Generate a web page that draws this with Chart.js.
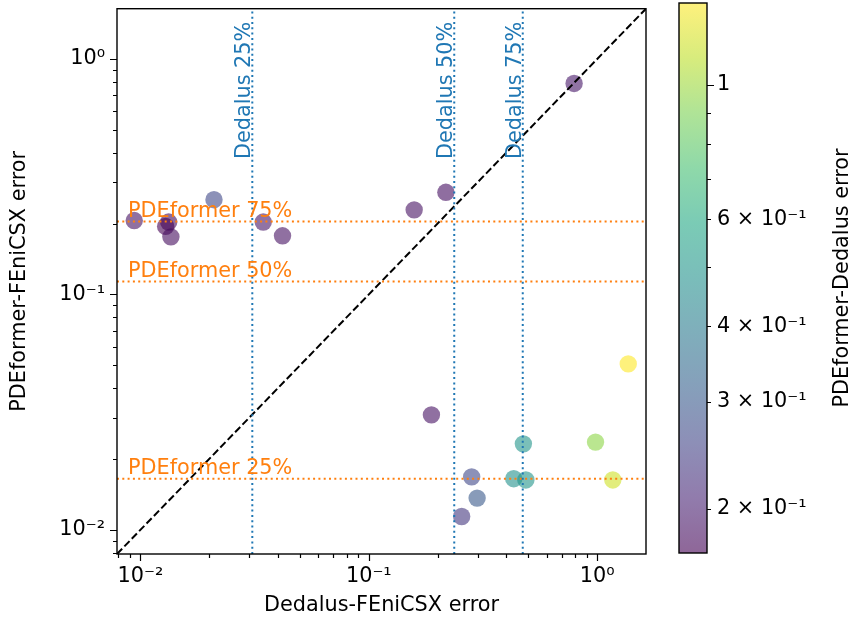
<!DOCTYPE html>
<html>
<head>
<meta charset="utf-8">
<script src="https://cdn.jsdelivr.net/npm/chart.js@4.4.1/dist/chart.umd.min.js"></script>
<style>
  body { margin: 0; background: #fff; }
  #wrap { position: relative; width: 853px; height: 632px; }
  #wrap canvas { position: absolute; left: 0; top: 0; }
</style>
</head>
<body>
<div id="wrap">
  <canvas id="scatterChart" width="853" height="632"></canvas>
  <canvas id="colorbar" width="853" height="632"></canvas>
</div>
<script>
// one entry per PDE: x = Dedalus-FEniCSX error, y = PDEformer-FEniCSX error, colour = PDEformer-Dedalus error
const dedalusErr = [0.0094, 0.0133, 0.0129, 0.0136, 0.0210, 0.0345, 0.0419, 0.158, 0.2175, 0.792,
                    0.188, 0.475, 0.282, 0.431, 0.487, 0.298, 0.255, 0.983, 1.17, 1.367];
const pdeformerErr = [0.206, 0.203, 0.1945, 0.1756, 0.2526, 0.203, 0.1774, 0.2287, 0.2715, 0.787,
                      0.0308, 0.0232, 0.0168, 0.0165, 0.0163, 0.01365, 0.0114, 0.0236, 0.0163, 0.0507];
const crossErr = [0.185, 0.178, 0.169, 0.18, 0.262, 0.19, 0.185, 0.185, 0.182, 0.19,
                  0.186, 0.50, 0.262, 0.48, 0.50, 0.30, 0.235, 0.95, 1.17, 1.365];

const dedalusQuantiles = [0.0309, 0.2366, 0.472];
const dedalusLabels = ['Dedalus 25%', 'Dedalus 50%', 'Dedalus 75%'];
const pdeformerQuantiles = [0.0165, 0.1134, 0.204];
const pdeformerLabels = ['PDEformer 25%', 'PDEformer 50%', 'PDEformer 75%'];

const axisMin = 0.0079;
const axisMax = 1.635;
const majorTicks = [0.01, 0.1, 1];
const majorLabels = ['10⁻²', '10⁻¹', '10⁰'];
const cbarTicks = [1, 0.6, 0.4, 0.3, 0.2];
const cbarLabels = ['1', '6 × 10⁻¹', '4 × 10⁻¹', '3 × 10⁻¹', '2 × 10⁻¹'];

const FONT = '"DejaVu Sans", "Liberation Sans", sans-serif';
const FONT_SIZE = 20.8;
const BLUE = '#1f77b4';
const ORANGE = '#ff7f0e';

const cMin = Math.min(...crossErr);
const cMax = Math.max(...crossErr);

const viridisStops = ['#440154', '#482475', '#414487', '#355f8d', '#2a788e', '#21918c',
                      '#22a884', '#44bf70', '#7ad151', '#bddf26', '#fde725'];

function hexRgb(h) {
    return [parseInt(h.slice(1, 3), 16), parseInt(h.slice(3, 5), 16), parseInt(h.slice(5, 7), 16)];
}

function viridis(t, alpha) {
    t = Math.max(0, Math.min(1, t));
    const p = t * (viridisStops.length - 1);
    const i = Math.min(Math.floor(p), viridisStops.length - 2);
    const f = p - i;
    const a = hexRgb(viridisStops[i]);
    const b = hexRgb(viridisStops[i + 1]);
    const c = a.map((v, k) => Math.round(v + (b[k] - v) * f));
    return `rgba(${c[0]},${c[1]},${c[2]},${alpha})`;
}

function logNorm(v) {
    return (Math.log10(v) - Math.log10(cMin)) / (Math.log10(cMax) - Math.log10(cMin));
}

// 1..9 x 10^e inside [lo, hi]
function logTickValues(lo, hi) {
    const out = [];
    for (let e = Math.floor(Math.log10(lo)); e <= Math.ceil(Math.log10(hi)); e++) {
        for (let m = 1; m <= 9; m++) {
            const v = m * Math.pow(10, e);
            if (v >= lo && v <= hi) out.push(v);
        }
    }
    return out;
}

function isDecade(v) {
    return Math.abs(Math.log10(v) - Math.round(Math.log10(v))) < 1e-9;
}

// keep chart.js from reserving room for half a tick label at the ends
function noEdgePadding(s) {
    s.paddingTop = 0;
    s.paddingBottom = 0;
    s.paddingLeft = 0;
    s.paddingRight = 0;
}

const frameAndText = {
    id: 'frameAndText',
    afterDatasetsDraw(chart) {
        const ctx = chart.ctx;
        const area = chart.chartArea;
        const xs = chart.scales.x;
        const ys = chart.scales.y;
        ctx.save();
        ctx.font = FONT_SIZE + 'px ' + FONT;

        // Dedalus quantile labels, rotated
        ctx.fillStyle = BLUE;
        dedalusQuantiles.forEach((q, i) => {
            const px = xs.getPixelForValue(q);
            ctx.save();
            ctx.translate(px - 2, area.top + 13);
            ctx.rotate(-Math.PI / 2);
            ctx.textAlign = 'right';
            ctx.textBaseline = 'alphabetic';
            ctx.fillText(dedalusLabels[i], 0, 0);
            ctx.restore();
        });

        // PDEformer quantile labels
        ctx.fillStyle = ORANGE;
        ctx.textAlign = 'left';
        ctx.textBaseline = 'alphabetic';
        pdeformerQuantiles.forEach((q, i) => {
            const py = ys.getPixelForValue(q);
            ctx.fillText(pdeformerLabels[i], area.left + 11, py - 4.5);
        });
        ctx.restore();
    },
    afterDraw(chart) {
        const ctx = chart.ctx;
        const area = chart.chartArea;
        const xs = chart.scales.x;
        const ys = chart.scales.y;
        ctx.save();
        ctx.strokeStyle = '#000';
        ctx.lineWidth = 1.4;
        ctx.strokeRect(area.left, area.top, area.right - area.left, area.bottom - area.top);

        ctx.lineWidth = 1.2;
        ctx.beginPath();
        logTickValues(axisMin, axisMax).forEach(v => {
            const len = isDecade(v) ? 7 : 4;
            const px = Math.round(xs.getPixelForValue(v)) + 0.5;
            ctx.moveTo(px, area.bottom);
            ctx.lineTo(px, area.bottom + len);
            const py = Math.round(ys.getPixelForValue(v)) + 0.5;
            ctx.moveTo(area.left, py);
            ctx.lineTo(area.left - len, py);
        });
        ctx.stroke();
        ctx.restore();
    }
};

function initScatter() {
    const ctx = document.getElementById('scatterChart').getContext('2d');
    const points = dedalusErr.map((x, i) => ({ x: x, y: pdeformerErr[i] }));
    const pointColors = crossErr.map(c => viridis(logNorm(c), 0.6));

    const datasets = [];
    dedalusQuantiles.forEach(q => {
        datasets.push({
            type: 'line',
            data: [{ x: q, y: axisMin }, { x: q, y: axisMax }],
            borderColor: BLUE,
            borderWidth: 2,
            borderDash: [2, 3.3],
            pointRadius: 0,
            fill: false
        });
    });
    pdeformerQuantiles.forEach(q => {
        datasets.push({
            type: 'line',
            data: [{ x: axisMin, y: q }, { x: axisMax, y: q }],
            borderColor: ORANGE,
            borderWidth: 2,
            borderDash: [2, 3.3],
            pointRadius: 0,
            fill: false
        });
    });
    datasets.push({
        type: 'line',
        data: [{ x: axisMin, y: axisMin }, { x: axisMax, y: axisMax }],
        borderColor: '#000',
        borderWidth: 2,
        borderDash: [7.4, 3.2],
        pointRadius: 0,
        fill: false
    });
    // scatter last so the reference lines sit on top of it
    datasets.push({
        type: 'scatter',
        data: points,
        backgroundColor: pointColors,
        borderWidth: 0,
        pointRadius: 8.7,
        pointHoverRadius: 8.7
    });

    const tickFont = { family: FONT, size: FONT_SIZE };
    new Chart(ctx, {
        type: 'scatter',
        data: { datasets: datasets },
        options: {
            responsive: false,
            animation: false,
            devicePixelRatio: 1,
            layout: { padding: { top: 3, right: 207, left: 0, bottom: 0 } },
            plugins: { legend: { display: false }, tooltip: { enabled: false } },
            scales: {
                x: {
                    type: 'logarithmic',
                    min: axisMin,
                    max: axisMax,
                    afterBuildTicks: s => { s.ticks = majorTicks.map(v => ({ value: v })); },
                    afterFit: s => { s.height = 78; noEdgePadding(s); },
                    grid: { display: false, drawTicks: true, tickLength: 7 },
                    border: { display: false },
                    ticks: {
                        autoSkip: false,
                        maxRotation: 0,
                        padding: 3,
                        color: '#000',
                        font: tickFont,
                        callback: (v, i) => majorLabels[i]
                    },
                    title: {
                        display: true,
                        text: 'Dedalus-FEniCSX error',
                        color: '#000',
                        font: tickFont,
                        padding: { top: 0, bottom: 13.5 }
                    }
                },
                y: {
                    type: 'logarithmic',
                    min: axisMin,
                    max: axisMax,
                    afterBuildTicks: s => { s.ticks = majorTicks.map(v => ({ value: v })); },
                    afterFit: s => { s.width = 117; noEdgePadding(s); },
                    grid: { display: false, drawTicks: true, tickLength: 7 },
                    border: { display: false },
                    ticks: {
                        autoSkip: false,
                        padding: 5,
                        color: '#000',
                        font: tickFont,
                        callback: (v, i) => majorLabels[i]
                    },
                    title: {
                        display: true,
                        text: 'PDEformer-FEniCSX error',
                        color: '#000',
                        font: tickFont,
                        padding: { top: 7.5, bottom: 0 }
                    }
                }
            }
        },
        plugins: [frameAndText]
    });
}

const colorbarPlugin = {
    id: 'colorbarFill',
    beforeDatasetsDraw(chart) {
        const ctx = chart.ctx;
        const a = chart.chartArea;
        const grad = ctx.createLinearGradient(0, a.bottom, 0, a.top);
        viridisStops.forEach((c, i) => {
            const t = i / (viridisStops.length - 1);
            grad.addColorStop(t, viridis(t, 0.6));
        });
        ctx.save();
        ctx.fillStyle = grad;
        ctx.fillRect(a.left, a.top, a.right - a.left, a.bottom - a.top);
        ctx.restore();
    },
    afterDraw(chart) {
        const ctx = chart.ctx;
        const a = chart.chartArea;
        const cs = chart.scales.y;
        ctx.save();
        ctx.strokeStyle = '#000';
        ctx.lineWidth = 1.4;
        ctx.strokeRect(a.left, a.top, a.right - a.left, a.bottom - a.top);
        ctx.lineWidth = 1.2;
        ctx.beginPath();
        logTickValues(cMin, cMax).forEach(v => {
            const len = isDecade(v) ? 7 : 4;
            const py = Math.round(cs.getPixelForValue(v)) + 0.5;
            ctx.moveTo(a.right, py);
            ctx.lineTo(a.right + len, py);
        });
        ctx.stroke();

        ctx.fillStyle = '#000';
        ctx.font = FONT_SIZE + 'px ' + FONT;
        ctx.translate(843, (a.top + a.bottom) / 2);
        ctx.rotate(-Math.PI / 2);
        ctx.textAlign = 'center';
        ctx.textBaseline = 'middle';
        ctx.fillText('PDEformer-Dedalus error', 0, 0);
        ctx.restore();
    }
};

function initColorbar() {
    const ctx = document.getElementById('colorbar').getContext('2d');
    new Chart(ctx, {
        type: 'scatter',
        data: { datasets: [] },
        options: {
            responsive: false,
            animation: false,
            devicePixelRatio: 1,
            layout: { padding: { left: 679, top: 3, bottom: 79, right: 0 } },
            plugins: { legend: { display: false }, tooltip: { enabled: false } },
            scales: {
                x: { display: false },
                y: {
                    type: 'logarithmic',
                    position: 'right',
                    min: cMin,
                    max: cMax,
                    afterBuildTicks: s => { s.ticks = cbarTicks.map(v => ({ value: v })); },
                    afterFit: s => { s.width = 146; noEdgePadding(s); },
                    grid: { display: false, drawTicks: true, tickLength: 7 },
                    border: { display: false },
                    ticks: {
                        autoSkip: false,
                        padding: 3,
                        color: '#000',
                        font: { family: FONT, size: FONT_SIZE },
                        callback: (v, i) => cbarLabels[i]
                    }
                }
            }
        },
        plugins: [colorbarPlugin]
    });
}

document.addEventListener('DOMContentLoaded', () => {
    initScatter();
    initColorbar();
});
</script>
</body>
</html>
